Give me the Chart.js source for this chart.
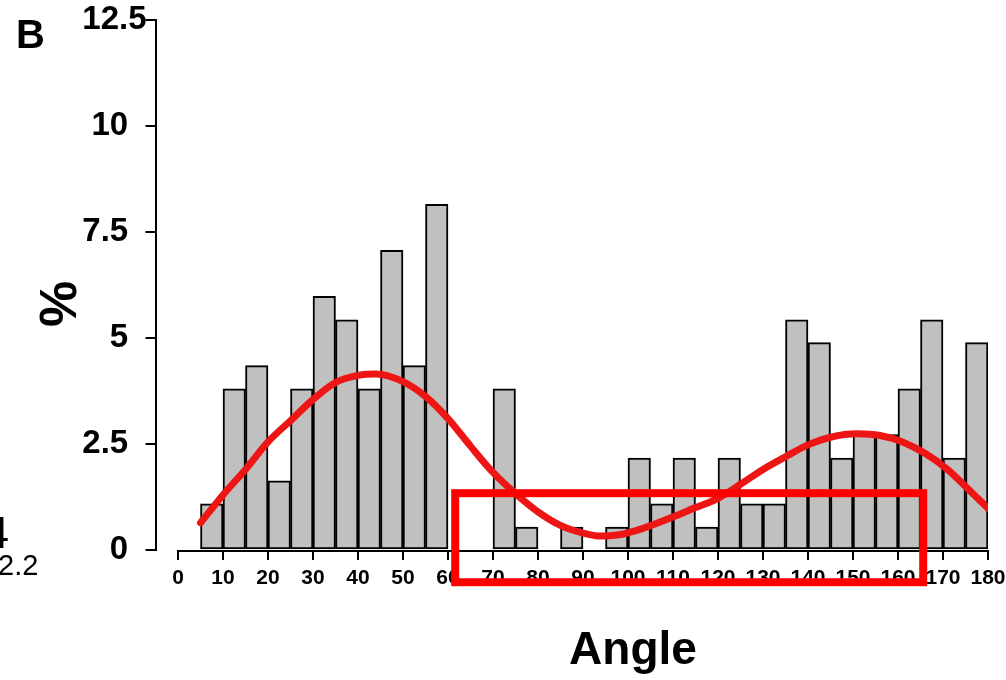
<!DOCTYPE html>
<html><head><meta charset="utf-8">
<script src="https://cdn.jsdelivr.net/npm/chart.js@4.4.1/dist/chart.umd.min.js"></script>
<style>html,body{margin:0;padding:0;background:#fff;}</style>
</head><body>
<canvas id="c" width="1006" height="680"></canvas>
<script>
// Histogram bins (5-degree wide, centres) and percentages
const binCenters = [7.5,12.5,17.5,22.5,27.5,32.5,37.5,42.5,47.5,52.5,57.5,62.5,67.5,72.5,77.5,82.5,87.5,92.5,97.5,102.5,107.5,112.5,117.5,122.5,127.5,132.5,137.5,142.5,147.5,152.5,157.5,162.5,167.5,172.5,177.5];
const binPercent = [1.09,3.80,4.35,1.63,3.80,5.98,5.43,3.80,7.07,4.35,8.15,0,0,3.80,0.54,0,0.54,0,0.54,2.17,1.09,2.17,0.54,2.17,1.09,1.09,5.43,4.89,2.17,2.72,2.72,3.80,5.43,2.17,4.89];
// Fitted density curve (red)
const curveAngles  = [5,10,15,20,25,30,35,40,44,50,55,60,65,70,75,80,85,90,94,98,103,110,115,120,125,130,135,140,145,151,156,161,166,171,175,180];
const curvePercent = [0.64,1.30,1.90,2.55,3.05,3.55,3.95,4.12,4.15,3.97,3.62,3.10,2.45,1.83,1.33,0.90,0.58,0.40,0.33,0.36,0.50,0.78,1.00,1.22,1.55,1.90,2.20,2.48,2.66,2.74,2.70,2.55,2.28,1.90,1.50,0.98];
// Axis ticks
const xTickValues = [0,10,20,30,40,50,60,70,80,90,100,110,120,130,140,150,160,170,180];
const xTickLabels = ['0','10','20','30','40','50','60','70','80','90','100','110','120','130','140','150','160','170','180'];
const yTickValues = [0,2.5,5,7.5,10,12.5];
const yTickLabels = ['0','2.5','5','7.5','10','12.5'];
// Highlight box (data units)
const highlightBox = {x0:61.6, x1:165.6, y0:-0.76, y1:1.34};

const extras = {
  id:'extras',
  afterDraw(chart){
    const ctx = chart.ctx, xs = chart.scales.x, ys = chart.scales.y;
    ctx.save();
    // x axis line from first to last tick
    ctx.strokeStyle = '#000'; ctx.lineWidth = 2;
    const yb = chart.chartArea.bottom + 1;
    ctx.beginPath();
    ctx.moveTo(xs.getPixelForValue(xTickValues[0]), yb);
    ctx.lineTo(xs.getPixelForValue(xTickValues[xTickValues.length-1]), yb);
    ctx.stroke();
    // red highlight rectangle
    ctx.strokeStyle = '#ff0000'; ctx.lineWidth = 8;
    const px0 = xs.getPixelForValue(highlightBox.x0), px1 = xs.getPixelForValue(highlightBox.x1);
    const py0 = ys.getPixelForValue(highlightBox.y1), py1 = ys.getPixelForValue(highlightBox.y0);
    ctx.strokeRect(px0, py0, px1-px0, py1-py0);
    // texts
    ctx.fillStyle = '#000';
    ctx.textBaseline = 'alphabetic';
    ctx.textAlign = 'center';
    ctx.font = 'bold 46px "Liberation Sans", Arial, sans-serif';
    ctx.fillText('Angle', 633, 664);
    ctx.save();
    ctx.translate(76, 304); ctx.rotate(-Math.PI/2);
    ctx.font = 'bold 52px "Liberation Sans", Arial, sans-serif';
    ctx.fillText('%', 0, 0);
    ctx.restore();
    ctx.textAlign = 'left';
    ctx.font = 'bold 40px "Liberation Sans", Arial, sans-serif';
    ctx.fillText('B', 16, 48);
    ctx.font = '29px "Liberation Sans", Arial, sans-serif';
    ctx.fillText('2.2', -2, 575);
    ctx.textAlign = 'right';
    ctx.font = '44px "Liberation Sans", Arial, sans-serif';
    ctx.fillText('4', 9, 548);
    ctx.restore();
  }
};

new Chart(document.getElementById('c'), {
  type:'bar',
  data:{
    datasets:[
      {type:'line', data: curveAngles.map((a,i)=>({x:a, y:curvePercent[i]})), borderColor:'#ee1515', borderWidth:7, pointRadius:0, fill:false, cubicInterpolationMode:'monotone', order:0, borderCapStyle:'round'},
      {type:'bar', data: binCenters.map((c,i)=>({x:c, y:binPercent[i]})), backgroundColor:'#c0c0c0', borderColor:'#000', borderWidth:2, borderSkipped:false, barPercentage:1, categoryPercentage:1, grouped:false, order:1}
    ]
  },
  options:{
    responsive:false, devicePixelRatio:1, animation:false,
    layout:{padding:{top:20,right:18,bottom:0,left:0}},
    plugins:{legend:{display:false}, tooltip:{enabled:false}},
    scales:{
      x:{type:'linear', min:-5, max:180, offset:false,
        afterBuildTicks:s=>{s.ticks = xTickValues.map(v=>({value:v}));},
        afterFit:s=>{s.height = 130; s.paddingLeft = 0; s.paddingRight = 0;},
        ticks:{autoSkip:false, maxRotation:0, padding:6, color:'#000',
          font:{family:'"Liberation Sans", Arial', weight:'bold', size:21},
          callback:(v)=>xTickLabels[xTickValues.indexOf(v)]},
        grid:{offset:false, drawOnChartArea:false, drawTicks:true, tickLength:10, color:'#000', lineWidth:2},
        border:{display:false}
      },
      y:{min:0, max:12.5,
        afterBuildTicks:s=>{s.ticks = yTickValues.map(v=>({value:v}));},
        afterFit:s=>{s.width = 155.5;},
        ticks:{padding:-1, color:'#000',
          font:{family:'"Liberation Sans", Arial', weight:'bold', size:33},
          callback:(v)=>{const l = yTickLabels[yTickValues.indexOf(v)]; return l==='12.5' ? l : l+'\u2007';}},
        grid:{drawOnChartArea:false, drawTicks:true, tickLength:10, color:'#000', lineWidth:2},
        border:{display:true, color:'#000', width:2}
      }
    }
  },
  plugins:[extras]
});
</script>
</body></html>
